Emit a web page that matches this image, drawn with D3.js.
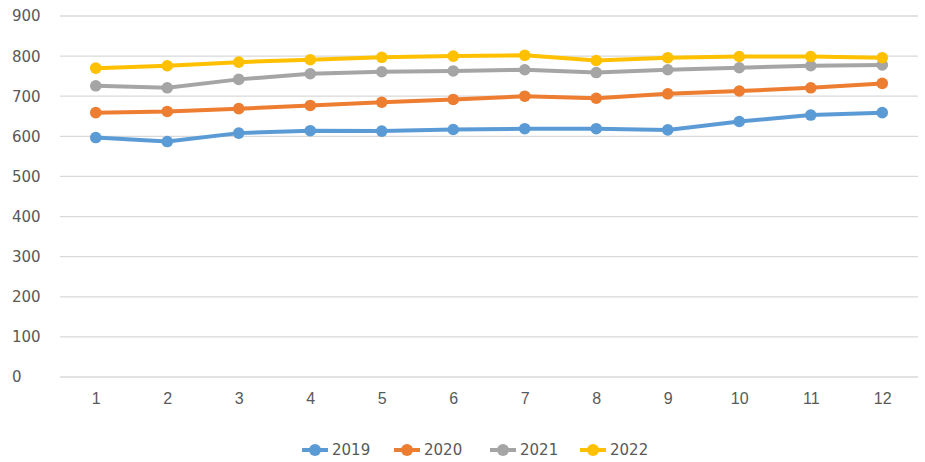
<!DOCTYPE html>
<html>
<head>
<meta charset="utf-8">
<script src="https://cdn.jsdelivr.net/npm/d3@7"></script>
<style>
  html, body { margin: 0; padding: 0; background: #ffffff; }
  svg { display: block; }
</style>
</head>
<body>
<svg id="chart" width="925" height="462"></svg>
<script>
// Months on the x axis
const months = [1, 2, 3, 4, 5, 6, 7, 8, 9, 10, 11, 12];

// Monthly values per year
const values2019 = [597, 587, 608, 614, 613, 617, 619, 619, 616, 637, 653, 659];
const values2020 = [659, 662, 669, 677, 685, 692, 700, 695, 706, 713, 721, 732];
const values2021 = [726, 721, 742, 756, 761, 763, 766, 759, 766, 771, 776, 778];
const values2022 = [770, 776, 785, 791, 797, 800, 802, 789, 796, 799, 799, 796];

const seriesNames = ["2019", "2020", "2021", "2022"];
const seriesColors = ["#5B9BD5", "#ED7D31", "#A5A5A5", "#FFC000"];
const yTicks = [0, 100, 200, 300, 400, 500, 600, 700, 800, 900];

const series = [values2019, values2020, values2021, values2022].map((vals, i) => ({
  name: seriesNames[i],
  color: seriesColors[i],
  points: months.map((m, j) => ({ month: m, value: vals[j] }))
}));

const svg = d3.select("#chart");
const plot = { left: 60, right: 918, top: 16, bottom: 377 };

const x = d3.scalePoint()
  .domain(months)
  .range([plot.left, plot.right])
  .padding(0.5);

const y = d3.scaleLinear()
  .domain([0, 900])
  .range([plot.bottom, plot.top]);

// Horizontal gridlines
svg.append("g")
  .selectAll("line")
  .data(yTicks)
  .join("line")
  .attr("x1", plot.left)
  .attr("x2", plot.right)
  .attr("y1", d => y(d))
  .attr("y2", d => y(d))
  .attr("stroke", "#d9d9d9")
  .attr("stroke-width", 1.3);

// Y axis labels (left aligned)
svg.append("g")
  .selectAll("text")
  .data(yTicks)
  .join("text")
  .attr("x", 12)
  .attr("y", d => y(d))
  .attr("dy", "0.36em")
  .attr("font-family", "DejaVu Sans, sans-serif")
  .attr("font-size", 15)
  .attr("fill", "#595959")
  .text(d => d);

// X axis labels
const xAxis = d3.axisBottom(x).tickSize(0).tickPadding(0);
const gx = svg.append("g")
  .attr("transform", `translate(0, ${plot.bottom + 16})`)
  .call(xAxis);
gx.select(".domain").remove();
gx.selectAll("text")
  .attr("font-family", "Liberation Sans, Arial, sans-serif")
  .attr("font-size", 16)
  .attr("fill", "#595959");

// Lines and markers
const line = d3.line()
  .x(d => x(d.month))
  .y(d => y(d.value));

const groups = svg.append("g")
  .selectAll("g")
  .data(series)
  .join("g");

groups.append("path")
  .attr("d", d => line(d.points))
  .attr("fill", "none")
  .attr("stroke", d => d.color)
  .attr("stroke-width", 4)
  .attr("stroke-linejoin", "round");

groups.selectAll("circle")
  .data(d => d.points.map(p => ({ ...p, color: d.color })))
  .join("circle")
  .attr("cx", d => x(d.month))
  .attr("cy", d => y(d.value))
  .attr("r", 5.8)
  .attr("fill", d => d.color);

// Legend
const legendX = [302, 394, 490, 580];
const legend = svg.append("g")
  .selectAll("g")
  .data(series)
  .join("g")
  .attr("transform", (d, i) => `translate(${legendX[i]}, 450)`);

legend.append("line")
  .attr("x1", 0).attr("x2", 26)
  .attr("y1", 0).attr("y2", 0)
  .attr("stroke", d => d.color)
  .attr("stroke-width", 4);

legend.append("circle")
  .attr("cx", 13).attr("cy", 0)
  .attr("r", 6)
  .attr("fill", d => d.color);

legend.append("text")
  .attr("x", 30)
  .attr("y", 0)
  .attr("dy", "0.36em")
  .attr("font-family", "DejaVu Sans, sans-serif")
  .attr("font-size", 15)
  .attr("fill", "#595959")
  .text(d => d.name);
</script>
</body>
</html>
